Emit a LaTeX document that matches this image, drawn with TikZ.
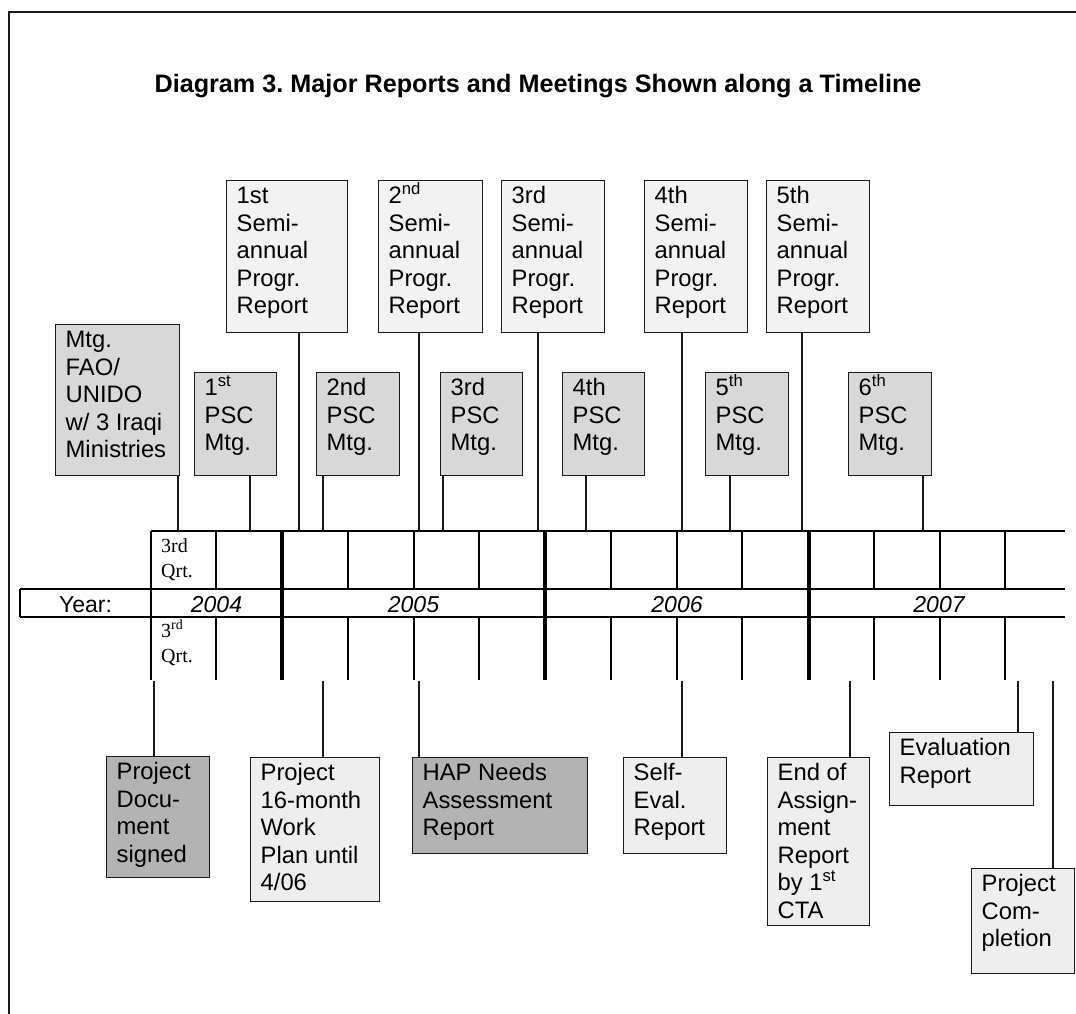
\documentclass[tikz,border=0pt]{standalone}
\usepackage{fontspec}
\setmainfont{Liberation Sans}
\newfontfamily\qrtfont{Liberation Serif}
\frenchspacing
\definecolor{semifill}{HTML}{F2F2F2}
\definecolor{pscfill}{HTML}{D8D8D8}
\definecolor{darkfill}{HTML}{B3B3B3}
\definecolor{lightfill}{HTML}{EEEEEE}
\definecolor{edge}{HTML}{1A1A1A}
\tikzset{
  bx/.style={draw=edge, line width=1.3pt, inner xsep=10pt, inner ysep=0pt, anchor=north west,
    font=\fontsize{23.8pt}{27.5pt}\selectfont},
  conn/.style={line width=1.3pt, draw=edge},
  gridline/.style={line width=1.3pt, draw=black},
  yearsep/.style={line width=4pt, draw=black},
  yeartext/.style={anchor=base, inner sep=0pt, font=\fontsize{23pt}{27pt}\selectfont},
  qrt/.style={anchor=base west, inner sep=0pt, font=\qrtfont\fontsize{20pt}{25pt}\selectfont},
}
\newcommand\tlbox[7]{%
  \pgfmathsetlengthmacro\bw{(#4)-(#2)-20}%
  \pgfmathsetlengthmacro\bh{(#5)-(#3)}%
  \node[bx, fill=#6] (#1) at (#2,#3) {\begin{minipage}[t][\bh][t]{\bw}\raggedright\rule{0pt}{23pt}#7\end{minipage}};%
}
\begin{document}
\begin{tikzpicture}[x=1pt,y=-1pt]
\useasboundingbox (0,0) rectangle (1076,1014);
% frame
\draw[line width=1.6pt, draw=edge] (9,1014) -- (9,12) -- (1076,12);
% title
\node[anchor=base, inner sep=0pt, font=\bfseries\fontsize{25.2pt}{30pt}\selectfont] (title) at (538,93)
  {Diagram 3. Major Reports and Meetings Shown along a Timeline};
% semi-annual reports
\tlbox{semi1}{226}{180}{347}{332}{semifill}{1st\\Semi-\\annual\\Progr.\\Report}
\tlbox{semi2}{378}{180}{482}{332}{semifill}{2\textsuperscript{nd}\\Semi-\\annual\\Progr.\\Report}
\tlbox{semi3}{501}{180}{604}{332}{semifill}{3rd\\Semi-\\annual\\Progr.\\Report}
\tlbox{semi4}{644}{180}{747}{332}{semifill}{4th\\Semi-\\annual\\Progr.\\Report}
\tlbox{semi5}{766}{180}{869}{332}{semifill}{5th\\Semi-\\annual\\Progr.\\Report}
% meetings
\tlbox{mtg}{55}{324}{179}{475}{pscfill}{Mtg.\\FAO/\\UNIDO\\w/ 3 Iraqi\\Ministries}
\tlbox{psc1}{194}{372}{276}{475}{pscfill}{1\textsuperscript{st}\\PSC\\Mtg.}
\tlbox{psc2}{316}{372}{399}{475}{pscfill}{2nd\\PSC\\Mtg.}
\tlbox{psc3}{440}{372}{522}{475}{pscfill}{3rd\\PSC\\Mtg.}
\tlbox{psc4}{562}{372}{644}{475}{pscfill}{4th\\PSC\\Mtg.}
\tlbox{psc5}{705}{372}{788}{475}{pscfill}{5\textsuperscript{th}\\PSC\\Mtg.}
\tlbox{psc6}{848}{372}{931}{475}{pscfill}{6\textsuperscript{th}\\PSC\\Mtg.}
% bottom boxes
\tlbox{projdoc}{106}{756}{209}{877}{darkfill}{Project\\Docu-\\ment\\signed}
\tlbox{workplan}{250}{757}{379}{901}{lightfill}{Project\\16-month\\Work\\Plan until\\4/06}
\tlbox{hap}{412}{757}{587}{853}{darkfill}{HAP Needs\\Assessment\\Report}
\tlbox{selfeval}{623}{757}{726}{853}{lightfill}{Self-\\Eval.\\Report}
\tlbox{endassign}{767}{757}{869}{925}{lightfill}{End of\\Assign-\\ment\\Report\\by 1\textsuperscript{st}\\CTA}
\tlbox{evalrep}{889}{732}{1033}{805}{lightfill}{Evaluation\\Report}
\tlbox{completion}{971}{868}{1074}{973}{lightfill}{Project\\Com-\\pletion}
% timeline grid
\draw[gridline] (151,531) -- (1065,531);
\draw[gridline] (20,589) -- (1065,589);
\draw[gridline] (20,617) -- (1065,617);
\draw[gridline] (20,589) -- (20,617);
\draw[gridline] (151,531) -- (151,680);
\foreach \x in {216,348,414,479,611,677,742,874,940,1005} {
  \draw[gridline] (\x,531) -- (\x,589);
  \draw[gridline] (\x,617) -- (\x,680);
}
\foreach \x in {282,545,809} {
  \draw[yearsep] (\x,531) -- (\x,680);
}
\node[yeartext] (yearlbl) at (85.5,612) {Year:};
\node[yeartext, font=\itshape\fontsize{23pt}{27pt}\selectfont] (y2004) at (216.5,612) {2004};
\node[yeartext, font=\itshape\fontsize{23pt}{27pt}\selectfont] (y2005) at (413.5,612) {2005};
\node[yeartext, font=\itshape\fontsize{23pt}{27pt}\selectfont] (y2006) at (677,612) {2006};
\node[yeartext, font=\itshape\fontsize{23pt}{27pt}\selectfont] (y2007) at (939,612) {2007};
\node[qrt] (qrtup) at (161,552) {\parbox[t]{50pt}{3rd\\Qrt.}};
\node[qrt] (qrtdown) at (161,637) {\parbox[t]{50pt}{3\textsuperscript{rd}\\Qrt.}};
% connectors above
\foreach \n/\x in {semi1/299, semi2/419, semi3/538, semi4/682, semi5/802, mtg/178, psc1/250, psc2/323, psc3/443, psc4/586, psc5/730, psc6/923} {
  \coordinate (t-\n) at (\x,531);
  \draw[conn] (\n.south -| t-\n) -- (t-\n);
}
% connectors below
\foreach \n/\x in {projdoc/154, workplan/323, hap/419, selfeval/682, endassign/850, evalrep/1018, completion/1053} {
  \coordinate (b-\n) at (\x,681);
  \draw[conn] (b-\n) -- (\n.north -| b-\n);
}
\end{tikzpicture}
\end{document}
